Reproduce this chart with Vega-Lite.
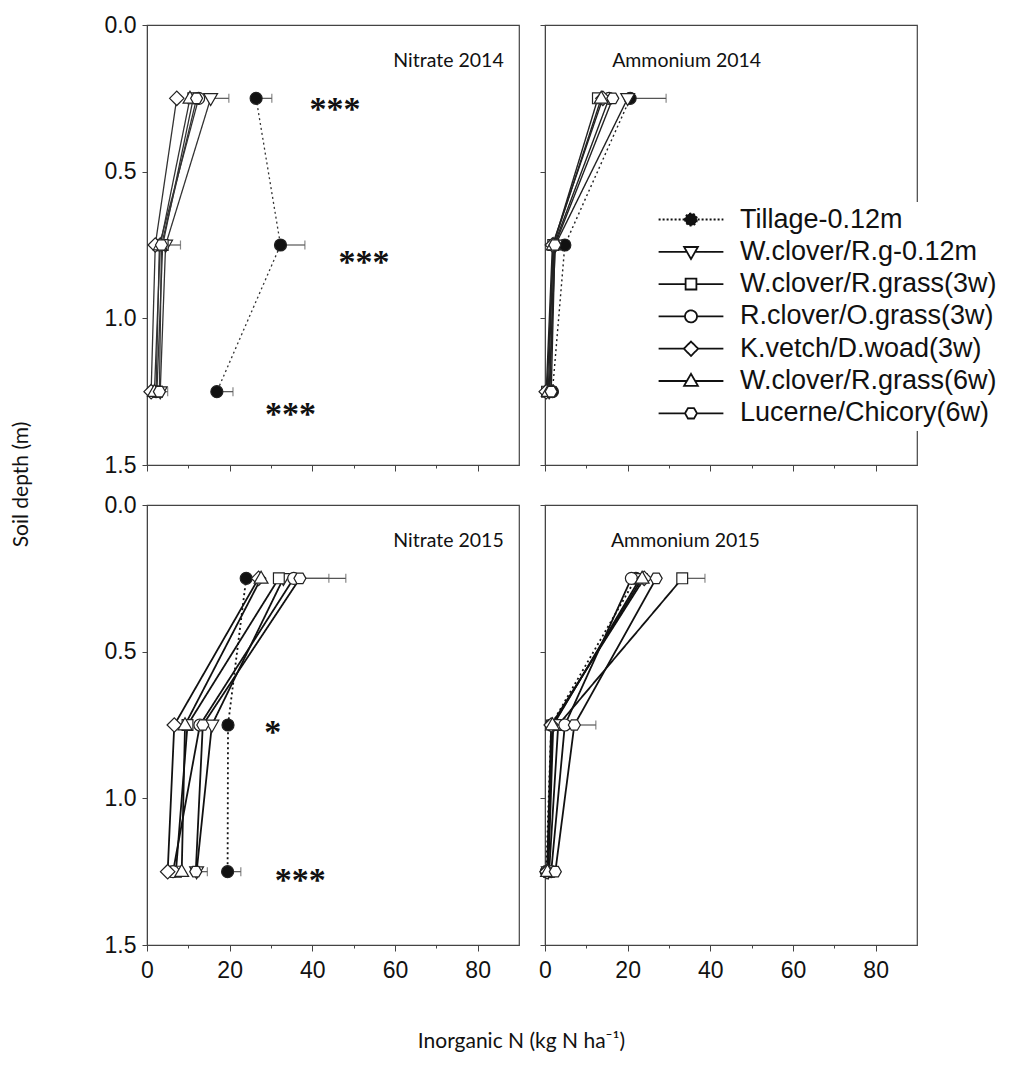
{
"$schema": "https://vega.github.io/schema/vega-lite/v6.json",
"padding": {"left": 9, "top": 13, "right": 0, "bottom": 0},
"background": "white",
"columns": 2,
"spacing": {"row": 40, "column": 26},
"bounds": "flush",
"config": {
  "view": {"stroke": "#444", "strokeWidth": 1.2},
  "axis": {"domainColor": "#444", "tickColor": "#444", "labelFont": "Liberation Sans", "labelFontSize": 23, "labelColor": "#111", "titleFont": "Lato", "titleFontSize": 21, "titleFontWeight": "normal", "titleColor": "#111", "grid": false, "labelFlush": false, "labelOverlap": false},
  "legend": {"labelFont": "Liberation Sans", "labelFontSize": 27, "labelColor": "#111"}
},
"datasets": {
  "pts": [
    {"p":"N2014","t":"Tillage-0.12m","d":0.25,"n":26.4},{"p":"N2014","t":"Tillage-0.12m","d":0.75,"n":32.3},{"p":"N2014","t":"Tillage-0.12m","d":1.25,"n":16.9},
    {"p":"N2014","t":"W.clover/R.g-0.12m","d":0.25,"n":15.4},{"p":"N2014","t":"W.clover/R.g-0.12m","d":0.75,"n":4.5},{"p":"N2014","t":"W.clover/R.g-0.12m","d":1.25,"n":3.2},
    {"p":"N2014","t":"W.clover/R.grass(3w)","d":0.25,"n":11.2},{"p":"N2014","t":"W.clover/R.grass(3w)","d":0.75,"n":3.8},{"p":"N2014","t":"W.clover/R.grass(3w)","d":1.25,"n":2.4},
    {"p":"N2014","t":"R.clover/O.grass(3w)","d":0.25,"n":12.5},{"p":"N2014","t":"R.clover/O.grass(3w)","d":0.75,"n":3.0},{"p":"N2014","t":"R.clover/O.grass(3w)","d":1.25,"n":2.2},
    {"p":"N2014","t":"K.vetch/D.woad(3w)","d":0.25,"n":7.2},{"p":"N2014","t":"K.vetch/D.woad(3w)","d":0.75,"n":2.0},{"p":"N2014","t":"K.vetch/D.woad(3w)","d":1.25,"n":1.0},
    {"p":"N2014","t":"W.clover/R.grass(6w)","d":0.25,"n":10.4},{"p":"N2014","t":"W.clover/R.grass(6w)","d":0.75,"n":3.2},{"p":"N2014","t":"W.clover/R.grass(6w)","d":1.25,"n":1.8},
    {"p":"N2014","t":"Lucerne/Chicory(6w)","d":0.25,"n":12.0},{"p":"N2014","t":"Lucerne/Chicory(6w)","d":0.75,"n":3.5},{"p":"N2014","t":"Lucerne/Chicory(6w)","d":1.25,"n":3.0},

    {"p":"A2014","t":"Tillage-0.12m","d":0.25,"n":20.6},{"p":"A2014","t":"Tillage-0.12m","d":0.75,"n":4.8},{"p":"A2014","t":"Tillage-0.12m","d":1.25,"n":1.8},
    {"p":"A2014","t":"W.clover/R.g-0.12m","d":0.25,"n":20.0},{"p":"A2014","t":"W.clover/R.g-0.12m","d":0.75,"n":2.5},{"p":"A2014","t":"W.clover/R.g-0.12m","d":1.25,"n":1.0},
    {"p":"A2014","t":"W.clover/R.grass(3w)","d":0.25,"n":12.8},{"p":"A2014","t":"W.clover/R.grass(3w)","d":0.75,"n":2.0},{"p":"A2014","t":"W.clover/R.grass(3w)","d":1.25,"n":0.5},
    {"p":"A2014","t":"R.clover/O.grass(3w)","d":0.25,"n":15.5},{"p":"A2014","t":"R.clover/O.grass(3w)","d":0.75,"n":2.2},{"p":"A2014","t":"R.clover/O.grass(3w)","d":1.25,"n":1.2},
    {"p":"A2014","t":"K.vetch/D.woad(3w)","d":0.25,"n":14.0},{"p":"A2014","t":"K.vetch/D.woad(3w)","d":0.75,"n":1.8},{"p":"A2014","t":"K.vetch/D.woad(3w)","d":1.25,"n":0.3},
    {"p":"A2014","t":"W.clover/R.grass(6w)","d":0.25,"n":13.6},{"p":"A2014","t":"W.clover/R.grass(6w)","d":0.75,"n":2.0},{"p":"A2014","t":"W.clover/R.grass(6w)","d":1.25,"n":0.8},
    {"p":"A2014","t":"Lucerne/Chicory(6w)","d":0.25,"n":16.4},{"p":"A2014","t":"Lucerne/Chicory(6w)","d":0.75,"n":2.4},{"p":"A2014","t":"Lucerne/Chicory(6w)","d":1.25,"n":1.5},

    {"p":"N2015","t":"Tillage-0.12m","d":0.25,"n":24.0},{"p":"N2015","t":"Tillage-0.12m","d":0.75,"n":19.6},{"p":"N2015","t":"Tillage-0.12m","d":1.25,"n":19.5},
    {"p":"N2015","t":"W.clover/R.g-0.12m","d":0.25,"n":33.0},{"p":"N2015","t":"W.clover/R.g-0.12m","d":0.75,"n":15.7},{"p":"N2015","t":"W.clover/R.g-0.12m","d":1.25,"n":12.0},
    {"p":"N2015","t":"W.clover/R.grass(3w)","d":0.25,"n":31.9},{"p":"N2015","t":"W.clover/R.grass(3w)","d":0.75,"n":9.8},{"p":"N2015","t":"W.clover/R.grass(3w)","d":1.25,"n":7.0},
    {"p":"N2015","t":"R.clover/O.grass(3w)","d":0.25,"n":35.5},{"p":"N2015","t":"R.clover/O.grass(3w)","d":0.75,"n":12.8},{"p":"N2015","t":"R.clover/O.grass(3w)","d":1.25,"n":6.3},
    {"p":"N2015","t":"K.vetch/D.woad(3w)","d":0.25,"n":27.0},{"p":"N2015","t":"K.vetch/D.woad(3w)","d":0.75,"n":6.6},{"p":"N2015","t":"K.vetch/D.woad(3w)","d":1.25,"n":5.0},
    {"p":"N2015","t":"W.clover/R.grass(6w)","d":0.25,"n":27.6},{"p":"N2015","t":"W.clover/R.grass(6w)","d":0.75,"n":9.2},{"p":"N2015","t":"W.clover/R.grass(6w)","d":1.25,"n":8.4},
    {"p":"N2015","t":"Lucerne/Chicory(6w)","d":0.25,"n":37.0},{"p":"N2015","t":"Lucerne/Chicory(6w)","d":0.75,"n":13.5},{"p":"N2015","t":"Lucerne/Chicory(6w)","d":1.25,"n":11.8},

    {"p":"A2015","t":"Tillage-0.12m","d":0.25,"n":22.0},{"p":"A2015","t":"Tillage-0.12m","d":0.75,"n":1.5},{"p":"A2015","t":"Tillage-0.12m","d":1.25,"n":0.3},
    {"p":"A2015","t":"W.clover/R.g-0.12m","d":0.25,"n":23.0},{"p":"A2015","t":"W.clover/R.g-0.12m","d":0.75,"n":2.0},{"p":"A2015","t":"W.clover/R.g-0.12m","d":1.25,"n":0.8},
    {"p":"A2015","t":"W.clover/R.grass(3w)","d":0.25,"n":33.2},{"p":"A2015","t":"W.clover/R.grass(3w)","d":0.75,"n":3.2},{"p":"A2015","t":"W.clover/R.grass(3w)","d":1.25,"n":1.0},
    {"p":"A2015","t":"R.clover/O.grass(3w)","d":0.25,"n":20.9},{"p":"A2015","t":"R.clover/O.grass(3w)","d":0.75,"n":4.8},{"p":"A2015","t":"R.clover/O.grass(3w)","d":1.25,"n":1.5},
    {"p":"A2015","t":"K.vetch/D.woad(3w)","d":0.25,"n":24.0},{"p":"A2015","t":"K.vetch/D.woad(3w)","d":0.75,"n":1.5},{"p":"A2015","t":"K.vetch/D.woad(3w)","d":1.25,"n":0.5},
    {"p":"A2015","t":"W.clover/R.grass(6w)","d":0.25,"n":23.5},{"p":"A2015","t":"W.clover/R.grass(6w)","d":0.75,"n":1.8},{"p":"A2015","t":"W.clover/R.grass(6w)","d":1.25,"n":0.6},
    {"p":"A2015","t":"Lucerne/Chicory(6w)","d":0.25,"n":26.9},{"p":"A2015","t":"Lucerne/Chicory(6w)","d":0.75,"n":7.1},{"p":"A2015","t":"Lucerne/Chicory(6w)","d":1.25,"n":2.5}
  ],
  "err": [
    {"p":"N2014","t":"Tillage-0.12m","d":0.25,"n":26.4,"u":30.2},
    {"p":"N2014","t":"W.clover/R.g-0.12m","d":0.25,"n":15.4,"u":19.8},
    {"p":"N2014","t":"Tillage-0.12m","d":0.75,"n":32.3,"u":38.2},
    {"p":"N2014","t":"W.clover/R.g-0.12m","d":0.75,"n":4.5,"u":8.1},
    {"p":"N2014","t":"Tillage-0.12m","d":1.25,"n":16.9,"u":20.8},
    {"p":"N2014","t":"W.clover/R.g-0.12m","d":1.25,"n":3.2,"u":5.0},
    {"p":"A2014","t":"Tillage-0.12m","d":0.25,"n":20.6,"u":29.3},
    {"p":"A2014","t":"Tillage-0.12m","d":0.75,"n":4.8,"u":5.6},
    {"p":"N2015","t":"Lucerne/Chicory(6w)","d":0.25,"n":37.0,"u":48.1},
    {"p":"N2015","t":"R.clover/O.grass(3w)","d":0.25,"n":35.5,"u":44.0},
    {"p":"N2015","t":"Lucerne/Chicory(6w)","d":1.25,"n":11.8,"u":14.6},
    {"p":"N2015","t":"Tillage-0.12m","d":1.25,"n":19.5,"u":22.7},
    {"p":"A2015","t":"W.clover/R.grass(3w)","d":0.25,"n":33.2,"u":38.7},
    {"p":"A2015","t":"Lucerne/Chicory(6w)","d":0.75,"n":7.1,"u":12.3}
  ],
  "lab": [
    {"p":"N2014","k":"title","n":86.3,"d":0.123,"s":"Nitrate 2014"},
    {"p":"A2014","k":"title","n":52.3,"d":0.123,"s":"Ammonium 2014"},
    {"p":"N2015","k":"title","n":86.3,"d":0.123,"s":"Nitrate 2015"},
    {"p":"A2015","k":"title","n":52.0,"d":0.123,"s":"Ammonium 2015"},
    {"p":"N2014","k":"star","n":45.5,"d":0.27,"s":"***"},
    {"p":"N2014","k":"star","n":52.5,"d":0.79,"s":"***"},
    {"p":"N2014","k":"star","n":34.7,"d":1.31,"s":"***"},
    {"p":"N2015","k":"star","n":30.4,"d":0.757,"s":"*"},
    {"p":"N2015","k":"star","n":37.1,"d":1.26,"s":"***"}
  ]
},
"concat": [
  {
    "width": 372, "height": 440,
    "encoding": {
      "x": {"field": "n", "type": "quantitative", "scale": {"domain": [0, 90], "nice": false, "zero": false},
            "axis": {"values": [0,10,20,30,40,50,60,70,80], "labels": false, "title": null, "tickSize": {"condition": {"test": "datum.value % 20 === 0", "value": 6}, "value": 3}}},
      "y": {"field": "d", "type": "quantitative", "scale": {"domain": [0, 1.5], "reverse": true, "nice": false},
            "axis": {"values": [0, 0.5, 1, 1.5], "format": ".1f", "tickSize": 5, "labelPadding": 6, "title": "Soil depth (m)", "titleY": 459, "titlePadding": 73}}
    },
    "layer": [
      {"data": {"name": "pts"}, "transform": [{"filter": "datum.p === 'N2014'"}],
       "mark": {"type": "line", "stroke": "#333", "strokeWidth": 1.3},
       "encoding": {"detail": {"field": "t"}, "strokeDash": {"condition": {"test": "datum.t === 'Tillage-0.12m'", "value": [2, 3]}, "value": [1, 0]}, "order": {"field": "d", "type": "quantitative"}}},
      {"data": {"name": "err"}, "transform": [{"filter": "datum.p === 'N2014'"}],
       "mark": {"type": "rule", "stroke": "#555", "strokeWidth": 1.2},
       "encoding": {"x2": {"field": "u"}}},
      {"data": {"name": "err"}, "transform": [{"filter": "datum.p === 'N2014'"}],
       "mark": {"type": "tick", "orient": "vertical", "color": "#555", "size": 9, "thickness": 1.2},
       "encoding": {"x": {"field": "u", "type": "quantitative"}}},
      {"data": {"name": "pts"}, "transform": [{"filter": "datum.p === 'N2014'"}],
       "mark": {"type": "point", "filled": true, "size": 144, "stroke": "#222", "strokeWidth": 1.2, "opacity": 1},
       "encoding": {
         "shape": {"condition": [
            {"test": "datum.t === 'Tillage-0.12m' || datum.t === 'R.clover/O.grass(3w)'", "value": "M-1,0A1,1 0 1,0 1,0A1,1 0 1,0 -1,0Z"},
            {"test": "datum.t === 'W.clover/R.g-0.12m'", "value": "M-1.15,-0.8L1.15,-0.8L0,1.2Z"},
            {"test": "datum.t === 'W.clover/R.grass(3w)'", "value": "M-0.9,-0.9L0.9,-0.9L0.9,0.9L-0.9,0.9Z"},
            {"test": "datum.t === 'K.vetch/D.woad(3w)'", "value": "M-1.2,0L0,-1.2L1.2,0L0,1.2Z"},
            {"test": "datum.t === 'W.clover/R.grass(6w)'", "value": "M-1.15,0.8L1.15,0.8L0,-1.2Z"}],
            "value": "M-1,0L-0.5,-0.87L0.5,-0.87L1,0L0.5,0.87L-0.5,0.87Z"},
         "fill": {"condition": {"test": "datum.t === 'Tillage-0.12m'", "value": "#111"}, "value": "white"}
       }},
      {"data": {"name": "lab"}, "transform": [{"filter": "datum.p === 'N2014' && datum.k === 'title'"}],
       "mark": {"type": "text", "align": "right", "baseline": "middle", "font": "Lato", "fontSize": 19.5, "color": "#111"},
       "encoding": {"text": {"field": "s"}}},
      {"data": {"name": "lab"}, "transform": [{"filter": "datum.p === 'N2014' && datum.k === 'star'"}],
       "mark": {"type": "text", "align": "center", "baseline": "alphabetic", "dy": 16, "font": "Liberation Serif", "fontSize": 34, "fontWeight": "bold", "color": "#111"},
       "encoding": {"text": {"field": "s"}}},
      {"data": {"name": "pts"}, "transform": [{"filter": "datum.p === 'none'"}],
       "mark": {"type": "point", "filled": true, "size": 144, "stroke": "#111", "strokeWidth": 1.8, "opacity": 1},
       "encoding": {
         "shape": {"field": "t", "type": "nominal",
           "scale": {"domain": ["Tillage-0.12m","W.clover/R.g-0.12m","W.clover/R.grass(3w)","R.clover/O.grass(3w)","K.vetch/D.woad(3w)","W.clover/R.grass(6w)","Lucerne/Chicory(6w)"],
                     "range": ["M-5.4,0L-1.1,0M1.1,0L5.4,0M-1,0A1,1 0 1,0 1,0A1,1 0 1,0 -1,0Z","M-5.4,0L-0.7,0M0.7,0L5.4,0M-1.15,-0.8L1.15,-0.8L0,1.2Z","M-5.4,0L-0.9,0M0.9,0L5.4,0M-0.9,-0.9L0.9,-0.9L0.9,0.9L-0.9,0.9Z","M-5.4,0L-1,0M1,0L5.4,0M-1,0A1,1 0 1,0 1,0A1,1 0 1,0 -1,0Z","M-5.4,0L-1.2,0M1.2,0L5.4,0M-1.2,0L0,-1.2L1.2,0L0,1.2Z","M-5.4,0L-0.7,0M0.7,0L5.4,0M-1.15,0.8L1.15,0.8L0,-1.2Z","M-5.4,0L-1,0M1,0L5.4,0M-1,0L-0.5,-0.87L0.5,-0.87L1,0L0.5,0.87L-0.5,0.87Z"]},
           "legend": {"title": null, "orient": "none", "legendX": 496, "legendY": 177, "fillColor": "white", "padding": 4, "symbolSize": 144, "symbolOffset": 30.5, "labelOffset": 35.5, "labelLimit": 400, "labelFontSize": 27, "rowPadding": 4.3, "symbolStrokeWidth": 1.8, "symbolOpacity": 1}},
         "fill": {"field": "t", "type": "nominal",
           "scale": {"domain": ["Tillage-0.12m","W.clover/R.g-0.12m","W.clover/R.grass(3w)","R.clover/O.grass(3w)","K.vetch/D.woad(3w)","W.clover/R.grass(6w)","Lucerne/Chicory(6w)"],
                     "range": ["#111","white","white","white","white","white","white"]},
           "legend": {"title": null, "orient": "none", "legendX": 496, "legendY": 177, "fillColor": "white", "padding": 4, "symbolSize": 144, "symbolOffset": 30.5, "labelOffset": 35.5, "labelLimit": 400, "labelFontSize": 27, "rowPadding": 4.3, "symbolStrokeWidth": 1.8, "symbolOpacity": 1}},
         "strokeDash": {"field": "t", "type": "nominal",
           "scale": {"domain": ["Tillage-0.12m","W.clover/R.g-0.12m","W.clover/R.grass(3w)","R.clover/O.grass(3w)","K.vetch/D.woad(3w)","W.clover/R.grass(6w)","Lucerne/Chicory(6w)"],
                     "range": [[2,2],[1,0],[1,0],[1,0],[1,0],[1,0],[1,0]]},
           "legend": {"title": null, "orient": "none", "legendX": 496, "legendY": 177, "fillColor": "white", "padding": 4, "symbolSize": 144, "symbolOffset": 30.5, "labelOffset": 35.5, "labelLimit": 400, "labelFontSize": 27, "rowPadding": 4.3, "symbolStrokeWidth": 1.8, "symbolOpacity": 1}}
       }}
    ]
  },
  {
    "width": 372, "height": 440,
    "encoding": {
      "x": {"field": "n", "type": "quantitative", "scale": {"domain": [0, 90], "nice": false, "zero": false},
            "axis": {"values": [0,10,20,30,40,50,60,70,80], "labels": false, "title": null, "tickSize": {"condition": {"test": "datum.value % 20 === 0", "value": 6}, "value": 3}}},
      "y": {"field": "d", "type": "quantitative", "scale": {"domain": [0, 1.5], "reverse": true, "nice": false},
            "axis": {"values": [0, 0.5, 1, 1.5], "labels": false, "tickSize": 5, "title": null}}
    },
    "layer": [
      {"data": {"name": "pts"}, "transform": [{"filter": "datum.p === 'A2014'"}],
       "mark": {"type": "line", "stroke": "#222", "strokeWidth": 1.4},
       "encoding": {"detail": {"field": "t"}, "strokeDash": {"condition": {"test": "datum.t === 'Tillage-0.12m'", "value": [2, 3]}, "value": [1, 0]}, "order": {"field": "d", "type": "quantitative"}}},
      {"data": {"name": "err"}, "transform": [{"filter": "datum.p === 'A2014'"}],
       "mark": {"type": "rule", "stroke": "#555", "strokeWidth": 1.2},
       "encoding": {"x2": {"field": "u"}}},
      {"data": {"name": "err"}, "transform": [{"filter": "datum.p === 'A2014'"}],
       "mark": {"type": "tick", "orient": "vertical", "color": "#555", "size": 9, "thickness": 1.2},
       "encoding": {"x": {"field": "u", "type": "quantitative"}}},
      {"data": {"name": "pts"}, "transform": [{"filter": "datum.p === 'A2014'"}],
       "mark": {"type": "point", "filled": true, "size": 144, "stroke": "#222", "strokeWidth": 1.2, "opacity": 1},
       "encoding": {
         "shape": {"condition": [
            {"test": "datum.t === 'Tillage-0.12m' || datum.t === 'R.clover/O.grass(3w)'", "value": "M-1,0A1,1 0 1,0 1,0A1,1 0 1,0 -1,0Z"},
            {"test": "datum.t === 'W.clover/R.g-0.12m'", "value": "M-1.15,-0.8L1.15,-0.8L0,1.2Z"},
            {"test": "datum.t === 'W.clover/R.grass(3w)'", "value": "M-0.9,-0.9L0.9,-0.9L0.9,0.9L-0.9,0.9Z"},
            {"test": "datum.t === 'K.vetch/D.woad(3w)'", "value": "M-1.2,0L0,-1.2L1.2,0L0,1.2Z"},
            {"test": "datum.t === 'W.clover/R.grass(6w)'", "value": "M-1.15,0.8L1.15,0.8L0,-1.2Z"}],
            "value": "M-1,0L-0.5,-0.87L0.5,-0.87L1,0L0.5,0.87L-0.5,0.87Z"},
         "fill": {"condition": {"test": "datum.t === 'Tillage-0.12m'", "value": "#111"}, "value": "white"}
       }},
      {"data": {"name": "lab"}, "transform": [{"filter": "datum.p === 'A2014' && datum.k === 'title'"}],
       "mark": {"type": "text", "align": "right", "baseline": "middle", "font": "Lato", "fontSize": 19.5, "color": "#111"},
       "encoding": {"text": {"field": "s"}}}
    ]
  },
  {
    "width": 372, "height": 440,
    "encoding": {
      "x": {"field": "n", "type": "quantitative", "scale": {"domain": [0, 90], "nice": false, "zero": false},
            "axis": {"values": [0,10,20,30,40,50,60,70,80], "labelExpr": "datum.value % 20 === 0 ? datum.label : ''", "labelPadding": 8, "title": "Inorganic N (kg N ha⁻¹)", "titleX": 374, "titlePadding": 48, "tickSize": {"condition": {"test": "datum.value % 20 === 0", "value": 6}, "value": 3}}},
      "y": {"field": "d", "type": "quantitative", "scale": {"domain": [0, 1.5], "reverse": true, "nice": false},
            "axis": {"values": [0, 0.5, 1, 1.5], "format": ".1f", "tickSize": 5, "labelPadding": 6, "title": null}}
    },
    "layer": [
      {"data": {"name": "pts"}, "transform": [{"filter": "datum.p === 'N2015'"}],
       "mark": {"type": "line", "stroke": "#111", "strokeWidth": 1.8},
       "encoding": {"detail": {"field": "t"}, "strokeDash": {"condition": {"test": "datum.t === 'Tillage-0.12m'", "value": [2, 3]}, "value": [1, 0]}, "order": {"field": "d", "type": "quantitative"}}},
      {"data": {"name": "err"}, "transform": [{"filter": "datum.p === 'N2015'"}],
       "mark": {"type": "rule", "stroke": "#555", "strokeWidth": 1.2},
       "encoding": {"x2": {"field": "u"}}},
      {"data": {"name": "err"}, "transform": [{"filter": "datum.p === 'N2015'"}],
       "mark": {"type": "tick", "orient": "vertical", "color": "#555", "size": 9, "thickness": 1.2},
       "encoding": {"x": {"field": "u", "type": "quantitative"}}},
      {"data": {"name": "pts"}, "transform": [{"filter": "datum.p === 'N2015'"}],
       "mark": {"type": "point", "filled": true, "size": 144, "stroke": "#222", "strokeWidth": 1.2, "opacity": 1},
       "encoding": {
         "shape": {"condition": [
            {"test": "datum.t === 'Tillage-0.12m' || datum.t === 'R.clover/O.grass(3w)'", "value": "M-1,0A1,1 0 1,0 1,0A1,1 0 1,0 -1,0Z"},
            {"test": "datum.t === 'W.clover/R.g-0.12m'", "value": "M-1.15,-0.8L1.15,-0.8L0,1.2Z"},
            {"test": "datum.t === 'W.clover/R.grass(3w)'", "value": "M-0.9,-0.9L0.9,-0.9L0.9,0.9L-0.9,0.9Z"},
            {"test": "datum.t === 'K.vetch/D.woad(3w)'", "value": "M-1.2,0L0,-1.2L1.2,0L0,1.2Z"},
            {"test": "datum.t === 'W.clover/R.grass(6w)'", "value": "M-1.15,0.8L1.15,0.8L0,-1.2Z"}],
            "value": "M-1,0L-0.5,-0.87L0.5,-0.87L1,0L0.5,0.87L-0.5,0.87Z"},
         "fill": {"condition": {"test": "datum.t === 'Tillage-0.12m'", "value": "#111"}, "value": "white"}
       }},
      {"data": {"name": "lab"}, "transform": [{"filter": "datum.p === 'N2015' && datum.k === 'title'"}],
       "mark": {"type": "text", "align": "right", "baseline": "middle", "font": "Lato", "fontSize": 19.5, "color": "#111"},
       "encoding": {"text": {"field": "s"}}},
      {"data": {"name": "lab"}, "transform": [{"filter": "datum.p === 'N2015' && datum.k === 'star'"}],
       "mark": {"type": "text", "align": "center", "baseline": "alphabetic", "dy": 16, "font": "Liberation Serif", "fontSize": 34, "fontWeight": "bold", "color": "#111"},
       "encoding": {"text": {"field": "s"}}}
    ]
  },
  {
    "width": 372, "height": 440,
    "encoding": {
      "x": {"field": "n", "type": "quantitative", "scale": {"domain": [0, 90], "nice": false, "zero": false},
            "axis": {"values": [0,10,20,30,40,50,60,70,80], "labelExpr": "datum.value % 20 === 0 ? datum.label : ''", "labelPadding": 8, "title": null, "tickSize": {"condition": {"test": "datum.value % 20 === 0", "value": 6}, "value": 3}}},
      "y": {"field": "d", "type": "quantitative", "scale": {"domain": [0, 1.5], "reverse": true, "nice": false},
            "axis": {"values": [0, 0.5, 1, 1.5], "labels": false, "tickSize": 5, "title": null}}
    },
    "layer": [
      {"data": {"name": "pts"}, "transform": [{"filter": "datum.p === 'A2015'"}],
       "mark": {"type": "line", "stroke": "#111", "strokeWidth": 1.8},
       "encoding": {"detail": {"field": "t"}, "strokeDash": {"condition": {"test": "datum.t === 'Tillage-0.12m'", "value": [2, 3]}, "value": [1, 0]}, "order": {"field": "d", "type": "quantitative"}}},
      {"data": {"name": "err"}, "transform": [{"filter": "datum.p === 'A2015'"}],
       "mark": {"type": "rule", "stroke": "#555", "strokeWidth": 1.2},
       "encoding": {"x2": {"field": "u"}}},
      {"data": {"name": "err"}, "transform": [{"filter": "datum.p === 'A2015'"}],
       "mark": {"type": "tick", "orient": "vertical", "color": "#555", "size": 9, "thickness": 1.2},
       "encoding": {"x": {"field": "u", "type": "quantitative"}}},
      {"data": {"name": "pts"}, "transform": [{"filter": "datum.p === 'A2015'"}],
       "mark": {"type": "point", "filled": true, "size": 144, "stroke": "#222", "strokeWidth": 1.2, "opacity": 1},
       "encoding": {
         "shape": {"condition": [
            {"test": "datum.t === 'Tillage-0.12m' || datum.t === 'R.clover/O.grass(3w)'", "value": "M-1,0A1,1 0 1,0 1,0A1,1 0 1,0 -1,0Z"},
            {"test": "datum.t === 'W.clover/R.g-0.12m'", "value": "M-1.15,-0.8L1.15,-0.8L0,1.2Z"},
            {"test": "datum.t === 'W.clover/R.grass(3w)'", "value": "M-0.9,-0.9L0.9,-0.9L0.9,0.9L-0.9,0.9Z"},
            {"test": "datum.t === 'K.vetch/D.woad(3w)'", "value": "M-1.2,0L0,-1.2L1.2,0L0,1.2Z"},
            {"test": "datum.t === 'W.clover/R.grass(6w)'", "value": "M-1.15,0.8L1.15,0.8L0,-1.2Z"}],
            "value": "M-1,0L-0.5,-0.87L0.5,-0.87L1,0L0.5,0.87L-0.5,0.87Z"},
         "fill": {"condition": {"test": "datum.t === 'Tillage-0.12m'", "value": "#111"}, "value": "white"}
       }},
      {"data": {"name": "lab"}, "transform": [{"filter": "datum.p === 'A2015' && datum.k === 'title'"}],
       "mark": {"type": "text", "align": "right", "baseline": "middle", "font": "Lato", "fontSize": 19.5, "color": "#111"},
       "encoding": {"text": {"field": "s"}}}
    ]
  }
]
}
